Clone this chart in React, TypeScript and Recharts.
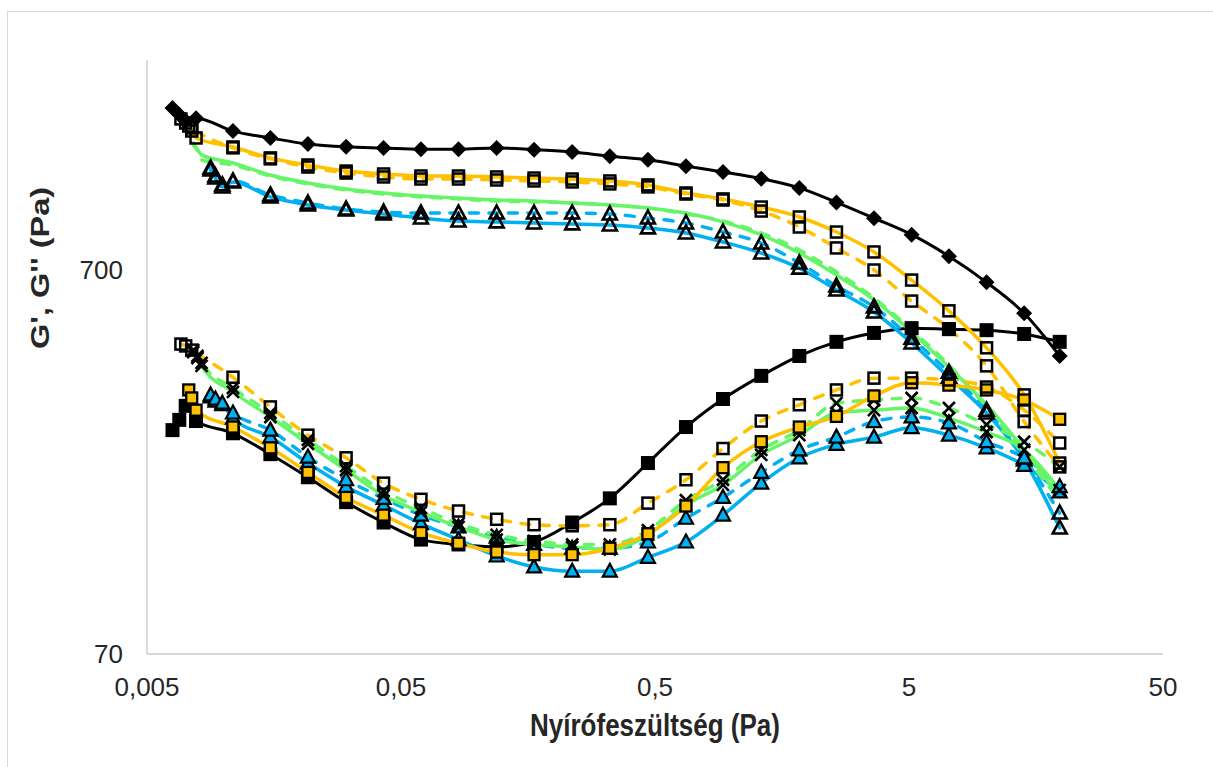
import React from 'react';
import { LineChart, Line, XAxis, YAxis } from 'recharts';

// shear stress (Pa): regular sweep points, each sample adds its own first few points
const stressGrid = [0.0109, 0.0153, 0.0215, 0.0304, 0.0427, 0.0599, 0.0842, 0.119, 0.167, 0.236, 0.332, 0.469, 0.662, 0.926, 1.31, 1.85, 2.59, 3.64, 5.12, 7.18, 10.1, 14.2, 19.6];
const stressA = [0.0063, 0.0067, 0.0071, 0.0078, ...stressGrid];
const stressB1 = [0.0073, 0.0075, 0.0078, ...stressGrid];
const stressB2 = [0.0068, 0.0071, 0.0075, ...stressGrid];
const stressC = [0.0076, 0.0079, 0.0082, ...stressGrid];
const stressD = [0.0089, 0.0093, 0.0099, ...stressGrid];

// G' (storage modulus, Pa)
const gPrimeA = [1850, 1775, 1710, 1740, 1610, 1545, 1490, 1465, 1455, 1445, 1445, 1455, 1440, 1420, 1385, 1355, 1305, 1260, 1210, 1145, 1050, 955, 865, 760, 650, 540, 418];
const gPrimeB1 = [1660, 1611, 1545, 1464, 1371, 1314, 1267, 1245, 1230, 1230, 1223, 1215, 1208, 1194, 1166, 1111, 1072, 1021, 962, 879, 780, 659, 548, 439, 331, 220];
const gPrimeB2 = [1732, 1690, 1641, 1456, 1363, 1298, 1252, 1223, 1208, 1208, 1201, 1194, 1187, 1173, 1152, 1104, 1065, 997, 906, 799, 700, 581, 492, 394, 282, 215];
const gPrimeC1 = [1482, 1438, 1396, 1330, 1237, 1180, 1138, 1111, 1091, 1078, 1065, 1059, 1046, 1034, 1015, 985, 934, 864, 775, 679, 585, 482, 391, 312, 238, 179];
const gPrimeC2 = [1500, 1438, 1354, 1314, 1230, 1173, 1131, 1104, 1085, 1072, 1059, 1053, 1046, 1034, 1015, 979, 939, 874, 789, 692, 592, 488, 396, 308, 231, 176];
const gPrimeD1 = [1275, 1215, 1152, 1187, 1085, 1034, 1003, 979, 956, 939, 934, 928, 923, 917, 901, 874, 828, 775, 708, 621, 544, 452, 368, 297, 224, 149];
const gPrimeD2 = [1291, 1230, 1166, 1194, 1098, 1046, 1009, 991, 985, 985, 985, 985, 985, 979, 956, 928, 879, 823, 730, 636, 561, 465, 379, 302, 227, 163];

// G'' (loss modulus, Pa)
const gDoubleA = [268, 285, 310, 283, 263, 232, 202, 174, 154, 139, 135, 133, 137, 154, 178, 220, 273, 323, 371, 418, 455, 480, 494, 491, 488, 477, 455];
const gDoubleB1 = [341, 325, 302, 273, 241, 208, 179, 161, 145, 136, 129, 127, 127, 132, 144, 170, 214, 250, 273, 291, 329, 356, 351, 341, 321, 286];
const gDoubleB2 = [449, 444, 433, 368, 308, 260, 227, 195, 177, 165, 157, 152, 151, 152, 173, 199, 240, 283, 312, 341, 366, 366, 362, 347, 302, 248];
const gDoubleC1 = [428, 413, 394, 337, 290, 247, 211, 181, 164, 150, 139, 135, 133, 131, 143, 171, 193, 231, 260, 297, 302, 306, 288, 265, 238, 187];
const gDoubleC2 = [433, 418, 401, 345, 297, 253, 216, 186, 168, 153, 143, 138, 135, 135, 147, 176, 199, 238, 268, 315, 321, 325, 306, 277, 250, 215];
const gDoubleD1 = [327, 319, 312, 288, 257, 220, 191, 171, 153, 139, 126, 118, 115, 115, 125, 137, 161, 195, 227, 246, 257, 272, 260, 241, 217, 185];
const gDoubleD2 = [331, 323, 315, 297, 268, 228, 199, 178, 161, 150, 141, 135, 132, 132, 137, 158, 179, 208, 238, 257, 282, 290, 280, 250, 227, 191];

const xTicks = [0.005, 0.05, 0.5, 5, 50];
const yTicks = [70, 700];

const BLACK = '#000000';
const ORANGE = '#FFC000';
const GREEN = '#66F566';
const BLUE = '#00B0F0';

const toPoints = (xs: number[], ys: number[]) => ys.map((y, i) => ({ x: xs[i], y }));

const series = [
  { id: 'gpA', xs: stressA, ys: gPrimeA, color: BLACK, dashed: false, marker: 'diamond', width: 3 },
  { id: 'gdA', xs: stressA, ys: gDoubleA, color: BLACK, dashed: false, marker: 'blackSquare', width: 3 },
  { id: 'gpD1', xs: stressD, ys: gPrimeD1, color: BLUE, dashed: false, marker: 'openTriangle', width: 3.5 },
  { id: 'gdD1', xs: stressD, ys: gDoubleD1, color: BLUE, dashed: false, marker: 'blueTriangle', width: 3.5 },
  { id: 'gpD2', xs: stressD, ys: gPrimeD2, color: BLUE, dashed: true, marker: 'openTriangle', width: 3.5 },
  { id: 'gdD2', xs: stressD, ys: gDoubleD2, color: BLUE, dashed: true, marker: 'blueTriangle', width: 3.5 },
  { id: 'gpC1', xs: stressC, ys: gPrimeC1, color: GREEN, dashed: false, marker: 'none', width: 3.5 },
  { id: 'gdC1', xs: stressC, ys: gDoubleC1, color: GREEN, dashed: false, marker: 'cross', width: 3.5 },
  { id: 'gpC2', xs: stressC, ys: gPrimeC2, color: GREEN, dashed: true, marker: 'none', width: 3.5 },
  { id: 'gdC2', xs: stressC, ys: gDoubleC2, color: GREEN, dashed: true, marker: 'cross', width: 3.5 },
  { id: 'gpB1', xs: stressB1, ys: gPrimeB1, color: ORANGE, dashed: false, marker: 'openSquare', width: 3.5 },
  { id: 'gdB1', xs: stressB1, ys: gDoubleB1, color: ORANGE, dashed: false, marker: 'orangeSquare', width: 3.5 },
  { id: 'gpB2', xs: stressB2, ys: gPrimeB2, color: ORANGE, dashed: true, marker: 'openSquare', width: 3.5 },
  { id: 'gdB2', xs: stressB2, ys: gDoubleB2, color: ORANGE, dashed: true, marker: 'openSquare', width: 3.5 },
];

function makeDot(kind: string, id: string) {
  return (p: any) => {
    const { cx, cy, index } = p;
    const key = `${id}-${index}`;
    if (cx == null || cy == null) return <g key={key} />;
    const tri = `M${cx} ${cy - 7.5}L${cx + 7} ${cy + 5.5}L${cx - 7} ${cy + 5.5}Z`;
    switch (kind) {
      case 'diamond':
        return <path key={key} d={`M${cx} ${cy - 8}L${cx + 8} ${cy}L${cx} ${cy + 8}L${cx - 8} ${cy}Z`} fill={BLACK} />;
      case 'blackSquare':
        return <rect key={key} x={cx - 7} y={cy - 7} width={14} height={14} fill={BLACK} />;
      case 'openSquare':
        return <rect key={key} x={cx - 5.5} y={cy - 5.5} width={11} height={11} fill="none" stroke={BLACK} strokeWidth={2.5} />;
      case 'orangeSquare':
        return <rect key={key} x={cx - 5.5} y={cy - 5.5} width={11} height={11} fill={ORANGE} stroke={BLACK} strokeWidth={2.3} />;
      case 'openTriangle':
        return <path key={key} d={tri} fill="none" stroke={BLACK} strokeWidth={2.6} />;
      case 'blueTriangle':
        return <path key={key} d={tri} fill={BLUE} stroke={BLACK} strokeWidth={2.2} />;
      case 'cross':
        return (
          <g key={key} stroke={BLACK} strokeWidth={2.6}>
            <line x1={cx - 6} y1={cy - 6} x2={cx + 6} y2={cy + 6} />
            <line x1={cx - 6} y1={cy + 6} x2={cx + 6} y2={cy - 6} />
          </g>
        );
      default:
        return <g key={key} />;
    }
  };
}

const FONT = '"Liberation Sans", Arial, sans-serif';
const fmt = (v: number) => String(v).replace('.', ',');

const XTick = (p: any) => (
  <text x={p.x} y={p.y + 42} textAnchor="middle" fontFamily={FONT} fontSize={26} fill="#262626">
    {fmt(p.payload.value)}
  </text>
);

const YTick = (p: any) => (
  <text x={p.x - 24} y={p.y + 9} textAnchor="end" fontFamily={FONT} fontSize={26} fill="#262626">
    {fmt(p.payload.value)}
  </text>
);

export default function App() {
  return (
    <div style={{ position: 'absolute', left: 0, top: 0, width: 1213, height: 767, overflow: 'hidden', background: '#fff' }}>
      <div style={{ position: 'absolute', left: 7, top: 11, width: 1230, height: 800, border: '1.5px solid #d9d9d9' }} />
      <div style={{ position: 'absolute', left: 0, top: 0 }}>
        <LineChart width={1213} height={767} margin={{ top: 60, right: 50, bottom: 0, left: 0 }}>
          <XAxis
            dataKey="x"
            type="number"
            scale="log"
            domain={[0.005, 50]}
            ticks={xTicks}
            allowDataOverflow
            height={113}
            tickLine={false}
            tickSize={0}
            tickMargin={0}
            axisLine={{ stroke: '#c8c8c8', strokeWidth: 1.3 }}
            tick={XTick}
          />
          <YAxis
            type="number"
            scale="log"
            domain={[70, 2466]}
            ticks={yTicks}
            allowDataOverflow
            width={147}
            tickLine={false}
            tickSize={0}
            tickMargin={0}
            axisLine={{ stroke: '#c8c8c8', strokeWidth: 1.3 }}
            tick={YTick}
          />
          {series.map((s) => (
            <Line
              key={s.id}
              data={toPoints(s.xs, s.ys)}
              dataKey="y"
              type="monotone"
              stroke={s.color}
              strokeWidth={s.width}
              strokeDasharray={s.dashed ? '9 10.5' : undefined}
              strokeLinecap="round"
              dot={s.marker === 'none' ? false : makeDot(s.marker, s.id)}
              activeDot={false}
              isAnimationActive={false}
            />
          ))}
        </LineChart>
      </div>
      <div style={{ position: 'absolute', left: 655, top: 726, transform: 'translate(-50%, -50%) scaleY(1.2)', fontFamily: FONT, fontWeight: 'bold', fontSize: 26, color: '#262626', whiteSpace: 'nowrap' }}>
        Nyírófeszültség (Pa)
      </div>
      <div style={{ position: 'absolute', left: 40, top: 268, transform: 'translate(-50%, -50%) rotate(-90deg) scaleX(1.25)', fontFamily: FONT, fontWeight: 'bold', fontSize: 26, color: '#262626', whiteSpace: 'nowrap' }}>
        G', G'' (Pa)
      </div>
    </div>
  );
}
